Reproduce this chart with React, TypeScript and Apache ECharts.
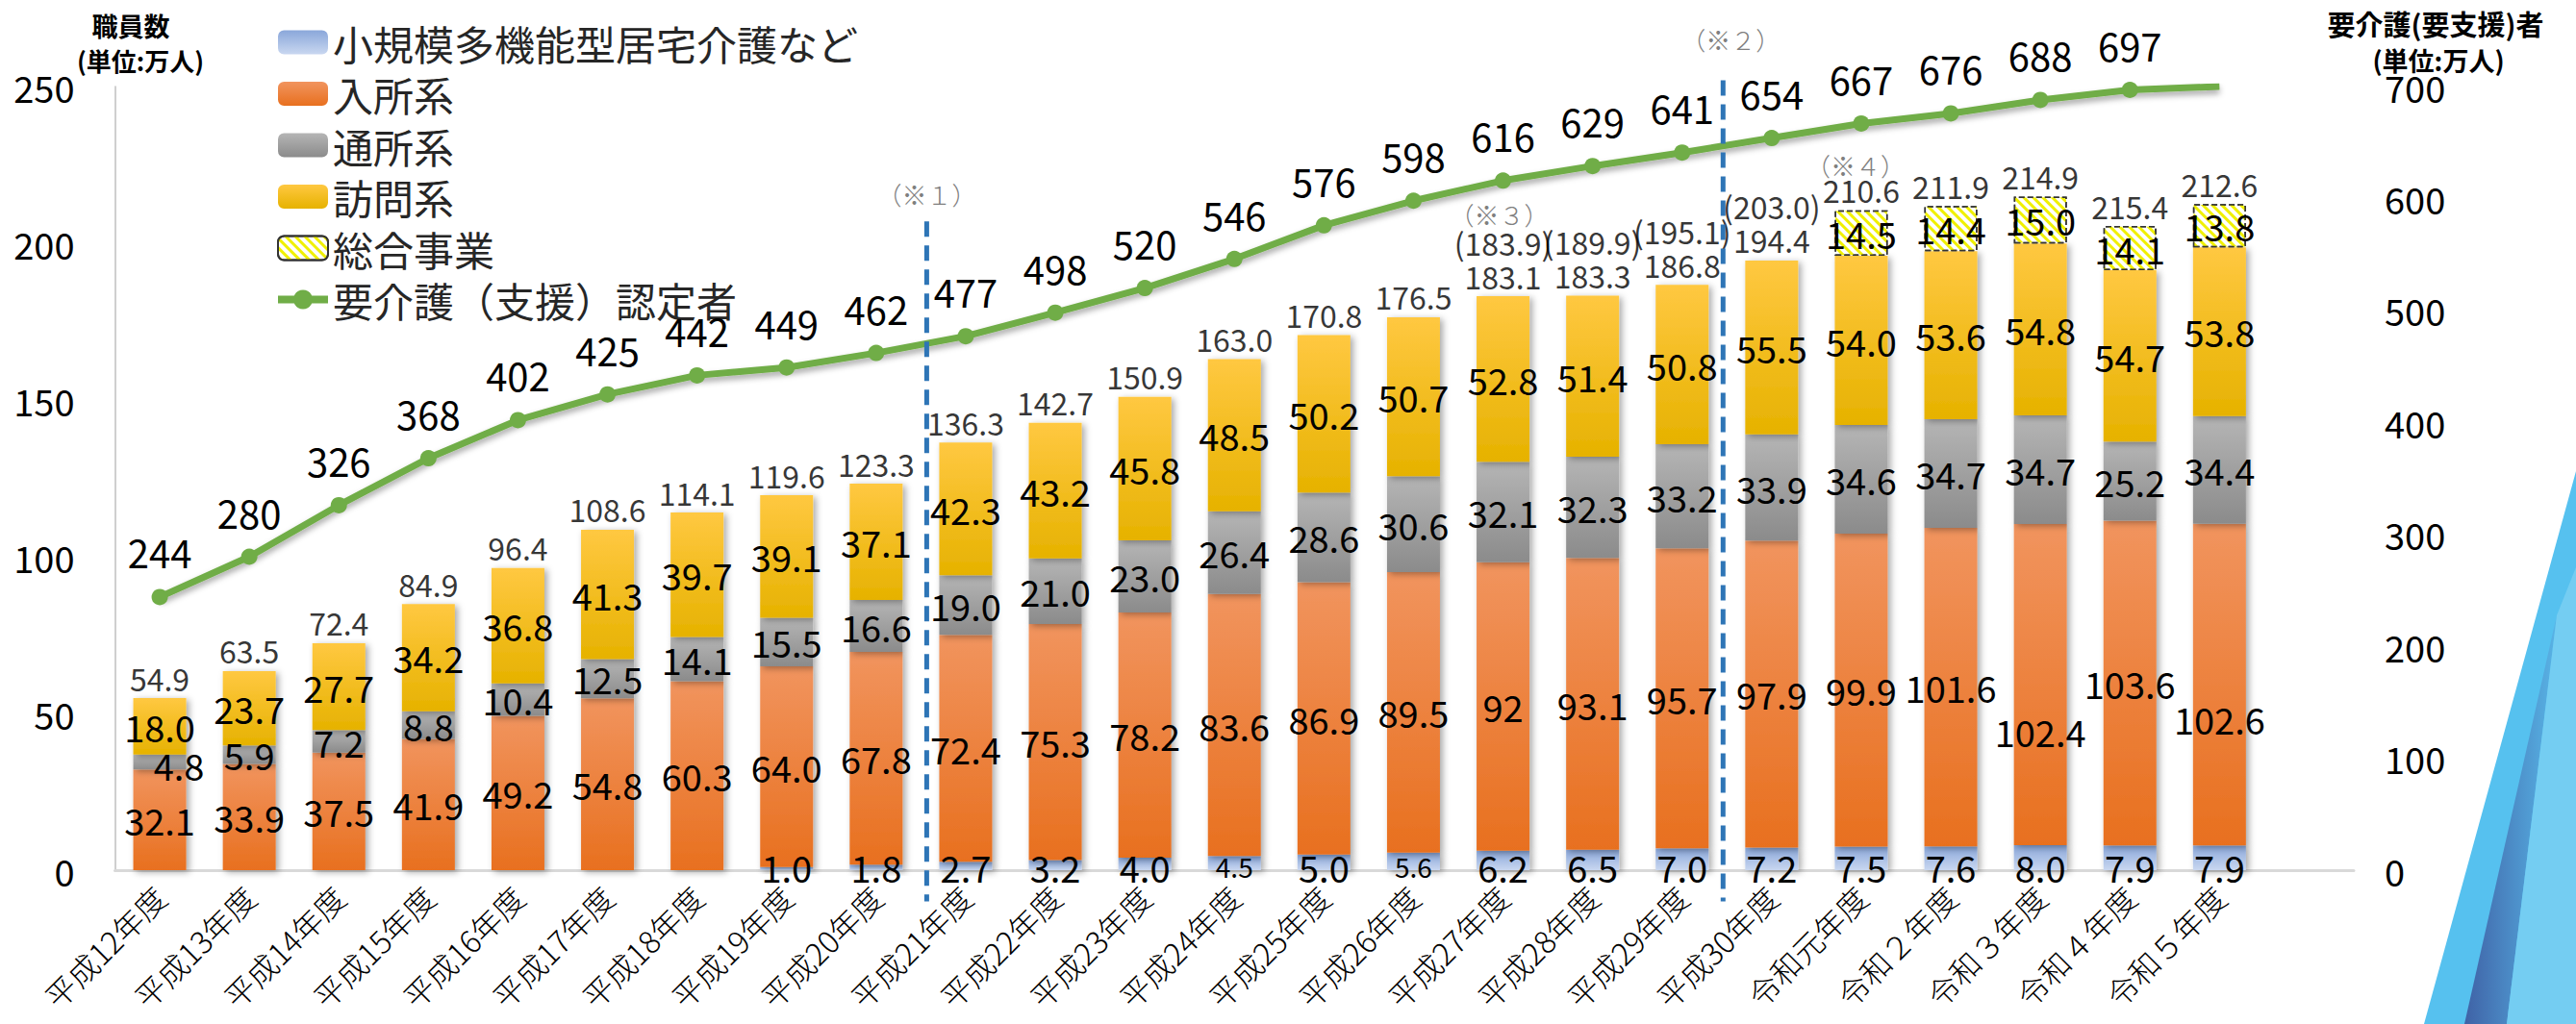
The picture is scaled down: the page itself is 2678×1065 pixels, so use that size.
import React, { useEffect, useRef } from 'react';
import * as echarts from 'echarts';

const categories = [
  '平成12年度', '平成13年度', '平成14年度', '平成15年度', '平成16年度', '平成17年度',
  '平成18年度', '平成19年度', '平成20年度', '平成21年度', '平成22年度', '平成23年度',
  '平成24年度', '平成25年度', '平成26年度', '平成27年度', '平成28年度', '平成29年度',
  '平成30年度', '令和元年度', '令和２年度', '令和３年度', '令和４年度', '令和５年度',
];

const shokibo = [null, null, null, null, null, null, null, 1.0, 1.8, 2.7, 3.2, 4.0, 4.5, 5.0, 5.6, 6.2, 6.5, 7.0, 7.2, 7.5, 7.6, 8.0, 7.9, 7.9];
const nyusho = [32.1, 33.9, 37.5, 41.9, 49.2, 54.8, 60.3, 64.0, 67.8, 72.4, 75.3, 78.2, 83.6, 86.9, 89.5, 92, 93.1, 95.7, 97.9, 99.9, 101.6, 102.4, 103.6, 102.6];
const nyushoNoDecimal = [15]; // 平成27年度 is printed as "92"
const tsusho = [4.8, 5.9, 7.2, 8.8, 10.4, 12.5, 14.1, 15.5, 16.6, 19.0, 21.0, 23.0, 26.4, 28.6, 30.6, 32.1, 32.3, 33.2, 33.9, 34.6, 34.7, 34.7, 25.2, 34.4];
const homon = [18.0, 23.7, 27.7, 34.2, 36.8, 41.3, 39.7, 39.1, 37.1, 42.3, 43.2, 45.8, 48.5, 50.2, 50.7, 52.8, 51.4, 50.8, 55.5, 54.0, 53.6, 54.8, 54.7, 53.8];
const sogo = [null, null, null, null, null, null, null, null, null, null, null, null, null, null, null, null, null, null, null, 14.5, 14.4, 15.0, 14.1, 13.8];
const totalLabels = ['54.9', '63.5', '72.4', '84.9', '96.4', '108.6', '114.1', '119.6', '123.3', '136.3', '142.7', '150.9', '163.0', '170.8', '176.5', '183.1', '183.3', '186.8', '194.4', '210.6', '211.9', '214.9', '215.4', '212.6'];
const totalNotes = ['', '', '', '', '', '', '', '', '', '', '', '', '', '', '', '(183.9)', '(189.9)', '(195.1)', '(203.0)', '', '', '', '', ''];
const ninteisha = [244, 280, 326, 368, 402, 425, 442, 449, 462, 477, 498, 520, 546, 576, 598, 616, 629, 641, 654, 667, 676, 688, 697, 700];

const leftTicks = { min: 0, max: 250, interval: 50 };
const rightTicks = { min: 0, max: 700, interval: 100 };

const NUM_FONT = '"Liberation Sans Narrow", "Arial Narrow", "Noto Sans CJK JP", sans-serif';
const JP_FONT = '"Noto Sans CJK JP", sans-serif';

const grad = (a: string, b: string) =>
  new echarts.graphic.LinearGradient(0, 0, 0, 1, [
    { offset: 0, color: a },
    { offset: 1, color: b },
  ]);

const barShadow = {
  shadowColor: 'rgba(0,0,0,0.35)',
  shadowBlur: 7,
  shadowOffsetX: 3,
  shadowOffsetY: 2,
};

export default function App() {
  const ref = useRef<HTMLDivElement>(null);

  useEffect(() => {
    const chart = echarts.init(ref.current!, null, { renderer: 'svg' });

    const segLabel = { show: true, position: 'inside', fontSize: 38, color: '#000', fontFamily: NUM_FONT };
    const fmt1 = (p: any) => (p.value == null ? '' : Number(p.value).toFixed(1));

    const totals = categories.map((_, i) =>
      [shokibo, nyusho, tsusho, homon, sogo].reduce((s, arr) => s + (arr[i] ?? 0), 0)
    );

    const option: any = {
      animation: false,
      backgroundColor: '#ffffff',
      grid: { left: 119.5, right: 231, top: 90, bottom: 160, containLabel: false },
      legend: {
        orient: 'vertical',
        left: 280,
        top: 18,
        itemWidth: 52,
        itemHeight: 25,
        itemGap: 11.5,
        textStyle: { fontSize: 42, lineHeight: 42, color: '#262626', fontFamily: JP_FONT },
        data: [
          '小規模多機能型居宅介護など', '入所系', '通所系', '訪問系', '総合事業',
          { name: '要介護（支援）認定者', lineStyle: { width: 8 } },
        ],
      },
      xAxis: {
        type: 'category',
        data: categories,
        max: 24,
        axisTick: { show: false },
        axisLine: { show: true, lineStyle: { color: '#d9d9d9', width: 3 } },
        axisLabel: {
          interval: 0,
          rotate: 45,
          fontSize: 32,
          margin: 22,
          color: '#000',
          fontFamily: JP_FONT,
          fontWeight: 300,
          formatter: (_v: any, idx: number) => categories[idx] ?? '',
        },
      },
      yAxis: [
        {
          type: 'value',
          ...leftTicks,
          splitLine: { show: false },
          axisTick: { show: false },
          axisLine: { show: true, lineStyle: { color: '#bfbfbf', width: 1.5 } },
          axisLabel: { fontSize: 38, color: '#000', margin: 42, fontFamily: NUM_FONT },
        },
        {
          type: 'value',
          position: 'right',
          ...rightTicks,
          splitLine: { show: false },
          axisTick: { show: false },
          axisLine: { show: false },
          axisLabel: { fontSize: 38, color: '#000', margin: 32, align: 'left', fontFamily: NUM_FONT },
        },
      ],
      series: [
        {
          name: '小規模多機能型居宅介護など',
          type: 'bar',
          stack: 'staff',
          barWidth: 55,
          data: shokibo.map((v, i) =>
            v == null ? null : (i === 12 || i === 14) ? { value: v, label: { fontSize: 28 } } : v
          ),
          itemStyle: { color: grad('#8aa7da', '#c9d7f0'), ...barShadow },
          label: {
            ...segLabel,
            position: ['50%', '100%'],
            align: 'center',
            verticalAlign: 'middle',
            offset: [0, -4],
            formatter: fmt1,
          },
        },
        {
          name: '入所系',
          type: 'bar',
          stack: 'staff',
          barWidth: 55,
          data: nyusho.map((v, i) =>
            i === 21 ? { value: v, label: { offset: [0, 48] } } : i === 23 ? { value: v, label: { offset: [0, 35] } } : v
          ),
          itemStyle: { color: grad('#f1945e', '#e8701f'), ...barShadow },
          label: {
            ...segLabel,
            formatter: (p: any) =>
              nyushoNoDecimal.includes(p.dataIndex) ? String(p.value) : Number(p.value).toFixed(1),
          },
        },
        {
          name: '通所系',
          type: 'bar',
          stack: 'staff',
          barWidth: 55,
          data: tsusho.map((v, i) => (i === 0 ? { value: v, label: { offset: [20, 3] } } : v)),
          itemStyle: { color: grad('#b5b5b5', '#8b8b8b'), ...barShadow },
          label: { ...segLabel, formatter: fmt1 },
        },
        {
          name: '訪問系',
          type: 'bar',
          stack: 'staff',
          barWidth: 55,
          data: homon,
          itemStyle: { color: grad('#ffc841', '#e6b200'), ...barShadow },
          label: { ...segLabel, formatter: fmt1 },
        },
        {
          name: '総合事業',
          type: 'bar',
          stack: 'staff',
          barWidth: 55,
          data: sogo,
          itemStyle: {
            color: '#ffffff',
            borderColor: '#333333',
            borderWidth: 1.5,
            borderType: 'dashed',
            decal: {
              symbol: 'rect',
              symbolSize: 1,
              color: '#f0f000',
              dashArrayX: [1, 0],
              dashArrayY: [2.5, 3.5],
              rotation: Math.PI / 4,
            },
          },
          label: { ...segLabel, formatter: fmt1 },
        },
        {
          name: '要介護（支援）認定者',
          type: 'line',
          yAxisIndex: 1,
          z: 5,
          data: ninteisha.map((v, i) =>
            i === ninteisha.length - 1 ? { value: v, symbol: 'none', label: { show: false } } : v
          ),
          symbol: 'circle',
          symbolSize: 17,
          itemStyle: { color: '#70ad47' },
          lineStyle: {
            color: '#70ad47',
            width: 7,
            shadowColor: 'rgba(0,0,0,0.35)',
            shadowBlur: 6,
            shadowOffsetY: 4,
          },
          label: { show: true, position: 'top', distance: 18, fontSize: 40, color: '#000', fontFamily: NUM_FONT },
        },
        {
          name: 'total',
          type: 'scatter',
          z: 6,
          silent: true,
          data: totals,
          symbol: 'circle',
          symbolSize: 1,
          itemStyle: { color: 'rgba(0,0,0,0)' },
          label: {
            show: true,
            position: 'top',
            distance: 3,
            color: '#000',
            fontFamily: NUM_FONT,
            formatter: (p: any) =>
              totalNotes[p.dataIndex]
                ? `{n|${totalNotes[p.dataIndex]}}\n{t|${totalLabels[p.dataIndex]}}`
                : `{t|${totalLabels[p.dataIndex]}}`,
            rich: {
              n: { fontSize: 32, lineHeight: 34, fontFamily: NUM_FONT, color: '#000' },
              t: { fontSize: 32, lineHeight: 36, fontFamily: NUM_FONT, color: '#000' },
            },
          },
        },
      ],
    };

    chart.setOption(option);

    const xPx = (i: number) => chart.convertToPixel({ xAxisIndex: 0 }, i) as number;
    const yPx = (v: number) => chart.convertToPixel({ yAxisIndex: 0 }, v) as number;
    const sep1 = (xPx(8) + xPx(9)) / 2 + 6;
    const sep2 = (xPx(17) + xPx(18)) / 2 - 4;
    const noteStyle = { fontSize: 26, fill: '#7f7f7f', fontFamily: JP_FONT, fontWeight: 300, textAlign: 'center', textVerticalAlign: 'middle' };
    const titleStyle = { fontSize: 26, fill: '#000', fontFamily: JP_FONT, fontWeight: 'bold', textAlign: 'center', textVerticalAlign: 'middle' };

    chart.setOption({
      graphic: [
        {
          type: 'line', z: 10,
          shape: { x1: sep1, y1: yPx(207), x2: sep1, y2: yPx(-10) },
          style: { stroke: '#2e75b6', lineWidth: 5, lineDash: [16, 9] },
        },
        {
          type: 'line', z: 10,
          shape: { x1: sep2, y1: yPx(252), x2: sep2, y2: yPx(-10) },
          style: { stroke: '#2e75b6', lineWidth: 5, lineDash: [16, 9] },
        },
        { type: 'text', x: sep1, y: 201, style: { ...noteStyle, text: '（※１）' } },
        { type: 'text', x: sep2 + 8, y: 40, style: { ...noteStyle, text: '（※２）' } },
        { type: 'text', x: xPx(15) - 4, y: 222, style: { ...noteStyle, text: '（※３）' } },
        { type: 'text', x: xPx(19) - 6, y: 171, style: { ...noteStyle, text: '（※４）' } },
        { type: 'text', x: 136, y: 26, style: { ...titleStyle, fontSize: 27, text: '職員数' } },
        { type: 'text', x: 146, y: 62, style: { ...titleStyle, text: '(単位:万人)' } },
        { type: 'text', x: 2532, y: 24, style: { ...titleStyle, fontSize: 29, text: '要介護(要支援)者' } },
        { type: 'text', x: 2535, y: 62, style: { ...titleStyle, fontSize: 27, text: '(単位:万人)' } },
        {
          type: 'polygon', z: 0,
          shape: { points: [[2678, 490], [2678, 1065], [2520, 1065]] },
          style: { fill: '#56c1ef' },
        },
        {
          type: 'polygon', z: 0,
          shape: { points: [[2658, 640], [2606, 1065], [2562, 1065]] },
          style: {
            fill: new echarts.graphic.LinearGradient(0, 0, 1, 0, [
              { offset: 0, color: '#3f62a6' },
              { offset: 1, color: '#58b4e6' },
            ]),
          },
        },
        {
          type: 'polygon', z: 0,
          shape: { points: [[2658, 640], [2678, 590], [2678, 1065], [2606, 1065]] },
          style: { fill: '#74cdf2' },
        },
      ],
    });

    return () => chart.dispose();
  }, []);

  return (
    <div
      ref={ref}
      style={{ position: 'fixed', left: 0, top: 0, width: 2678, height: 1065, background: '#fff' }}
    />
  );
}
